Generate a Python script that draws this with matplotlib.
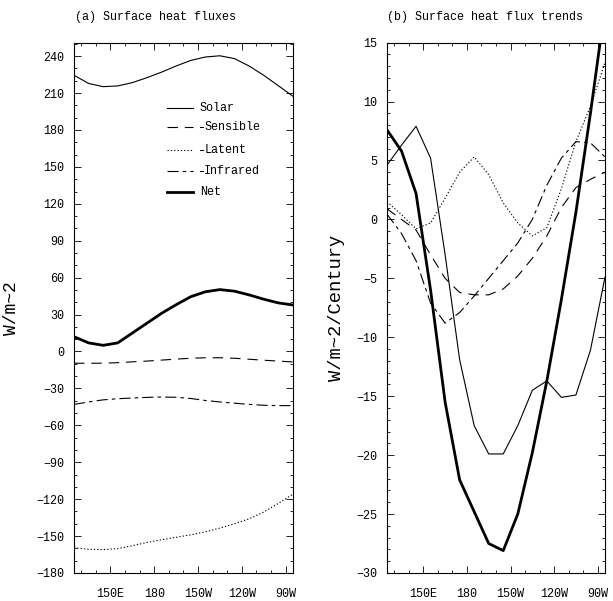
import matplotlib
matplotlib.use("Agg")
import matplotlib.pyplot as plt
from matplotlib.ticker import MultipleLocator, FixedLocator
from matplotlib.lines import Line2D

plt.rcParams['font.family'] = ['Liberation Mono', 'DejaVu Sans Mono']
plt.rcParams['lines.scale_dashes'] = False

# Longitudes (degrees east, 180..275 = 180..85W)
lon = [125, 135, 145, 155, 165, 175, 185, 195, 205, 215, 225, 235, 245, 255, 265, 275]

# (a) climatological surface heat fluxes, W/m^2
solar = [224.5, 217.8, 215.2, 215.8, 218.5, 222.5, 227.0, 232.0, 236.5, 239.3, 240.3, 238.0,
         232.0, 224.5, 216.0, 207.5]
sensible = [-9.5, -9.6, -9.5, -9.1, -8.4, -7.8, -7.0, -6.2, -5.5, -5.1, -5.1, -5.5,
            -6.3, -7.1, -7.8, -8.5]
latent = [-159.5, -160.7, -161.0, -160.2, -157.8, -155.2, -153.0, -151.0, -149.0, -146.6,
          -143.5, -140.0, -136.0, -130.5, -123.5, -116.0]
infrared = [-43.0, -41.0, -39.3, -38.4, -37.8, -37.3, -37.0, -37.2, -38.2, -39.8, -41.0,
            -42.0, -43.0, -43.7, -44.0, -44.0]
net = [12.0, 7.0, 5.0, 7.0, 15.0, 23.0, 31.0, 38.0, 44.5, 48.5, 50.3, 49.0, 46.0, 42.5,
       39.5, 37.8]

# (b) trends, W/m^2/Century
solar_tr = [4.6, 6.3, 7.9, 5.2, -3.0, -11.9, -17.5, -19.9, -19.9, -17.5, -14.5, -13.7,
            -15.1, -14.9, -11.1, -4.9]
sensible_tr = [0.9, 0.0, -0.9, -3.0, -5.0, -6.2, -6.4, -6.4, -5.9, -4.8, -3.3, -1.4,
               1.0, 2.7, 3.4, 4.0]
latent_tr = [1.5, 0.4, -0.8, -0.3, 1.8, 4.0, 5.3, 3.8, 1.4, -0.3, -1.4, -0.7, 2.6, 6.6,
             9.6, 13.3]
infrared_tr = [0.45, -1.2, -3.5, -7.1, -8.8, -7.9, -6.5, -5.0, -3.5, -2.0, 0.0, 2.9, 5.2,
               6.6, 6.5, 5.3]
net_tr = [7.6, 5.8, 2.2, -6.0, -15.5, -22.1, -24.8, -27.5, -28.1, -25.0, -19.8, -13.7,
          -6.8, 0.6, 9.0, 18.0]

xtick_pos = [150, 180, 210, 240, 270]
xtick_lab = ['150E', '180', '150W', '120W', '90W']
names = ['Solar', 'Sensible', 'Latent', 'Infrared', 'Net']

thin = 0.8
styles = {
    'Solar': dict(color='black', lw=thin, linestyle='-'),
    'Sensible': dict(color='black', lw=thin, dashes=(7.5, 5)),
    'Latent': dict(color='black', lw=thin, dashes=(0.9, 1.5)),
    'Infrared': dict(color='black', lw=thin, dashes=(8, 3, 2.5, 3)),
    'Net': dict(color='black', lw=2.0, linestyle='-'),
}

fig = plt.figure(figsize=(6.13, 6.01), dpi=100)
axa = fig.add_axes([0.1207, 0.0466, 0.357, 0.8825])
axb = fig.add_axes([0.6313, 0.0466, 0.3556, 0.8825])


def style_axis(ax):
    ax.set_xlim(125, 275)
    ax.xaxis.set_major_locator(FixedLocator(xtick_pos))
    ax.set_xticklabels(xtick_lab)
    ax.xaxis.set_minor_locator(MultipleLocator(10))
    ax.tick_params(which='both', direction='in', top=True, right=True,
                   labelsize=8.5, width=0.6)
    ax.tick_params(which='major', length=5, pad=7)
    ax.tick_params(axis='x', which='major', pad=11)
    ax.tick_params(which='minor', length=2.5)
    for s in ax.spines.values():
        s.set_linewidth(0.8)


for name, data in zip(names, [solar, sensible, latent, infrared, net]):
    axa.plot(lon, data, **styles[name])
style_axis(axa)
axa.set_ylim(-180, 251)
axa.yaxis.set_major_locator(MultipleLocator(30))
axa.yaxis.set_minor_locator(MultipleLocator(10))
axa.set_ylabel('W/m~2', fontsize=13, labelpad=12)

# key drawn inside panel (a)
key_y = [0.877, 0.840, 0.798, 0.758, 0.719]
for name, yk in zip(names, key_y):
    axa.add_line(Line2D([0.425, 0.543], [yk, yk], transform=axa.transAxes, **styles[name]))
    xt = 0.575
    if name in ('Sensible', 'Latent', 'Infrared'):
        axa.add_line(Line2D([0.578, 0.588], [yk, yk], transform=axa.transAxes,
                            color='black', lw=0.7))
        xt = 0.595
    axa.text(xt, yk, name, transform=axa.transAxes, fontsize=8.5,
             va='center', ha='left')

for name, data in zip(names, [solar_tr, sensible_tr, latent_tr, infrared_tr, net_tr]):
    axb.plot(lon, data, **styles[name])
style_axis(axb)
axb.set_ylim(-30, 15)
axb.yaxis.set_major_locator(MultipleLocator(5))
axb.yaxis.set_minor_locator(MultipleLocator(1))
axb.set_ylabel('W/m~2/Century', fontsize=13.5, labelpad=8)

fig.text(0.253, 0.972, '(a) Surface heat fluxes', fontsize=8.5, ha='center', va='center')
fig.text(0.791, 0.972, '(b) Surface heat flux trends', fontsize=8.5, ha='center', va='center')

fig.savefig('out.png', dpi=100)
